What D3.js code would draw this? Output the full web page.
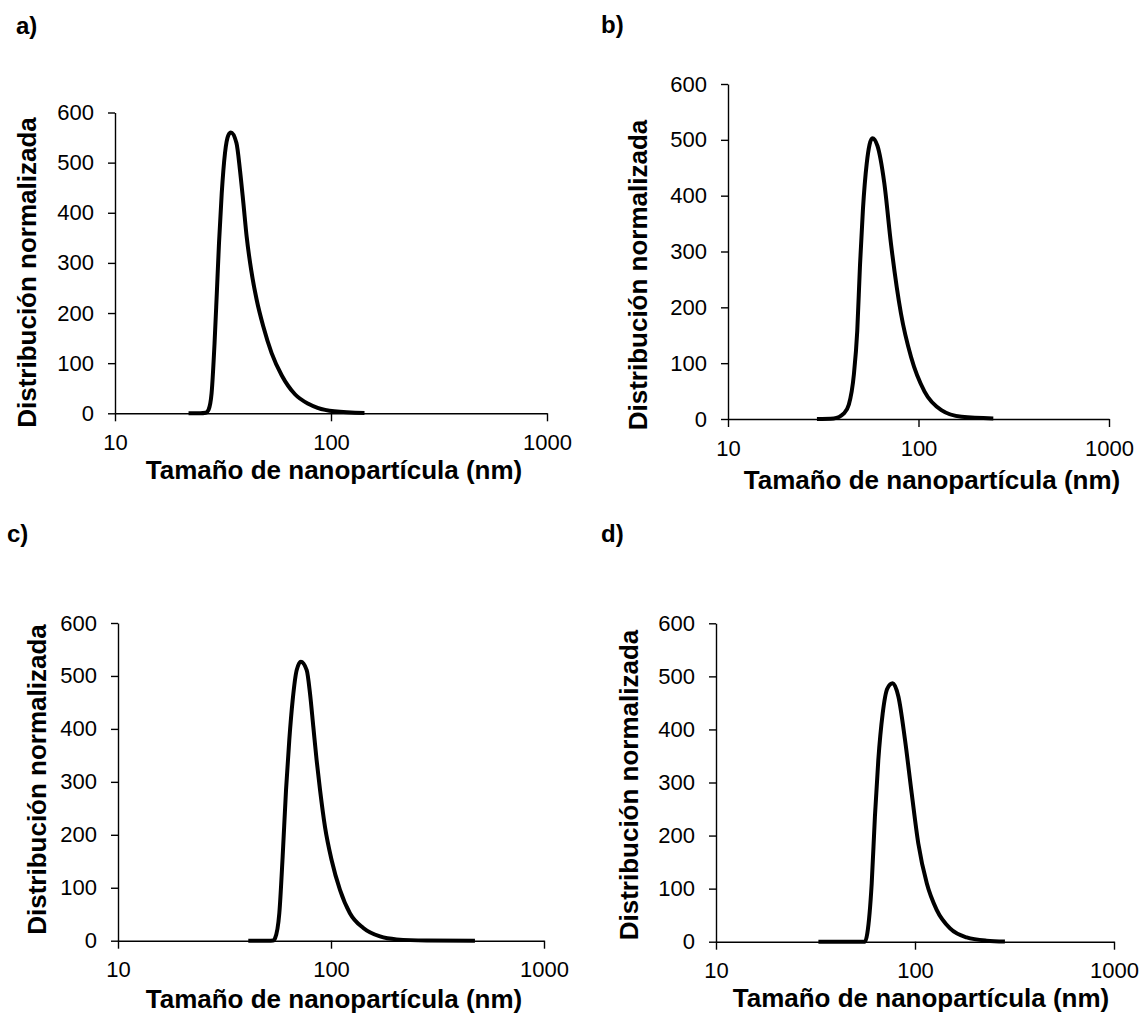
<!DOCTYPE html>
<html>
<head>
<meta charset="utf-8">
<script src="https://cdn.jsdelivr.net/npm/d3@7"></script>
<style>
  body { margin: 0; background: #fff; }
  svg { display: block; font-family: "Liberation Sans", Arial, sans-serif; }
  .axis path, .axis line { stroke: #000; stroke-width: 1.4px; }
  .axis text { font-size: 22px; fill: #000; }
</style>
</head>
<body>
<svg width="1141" height="1014"></svg>
<script>
// values (size in nm, normalized distribution)
var sizesA = [21.9, 24.8, 26.3, 27.1, 28.0, 28.9, 29.6, 30.3, 31.2, 32.3, 33.5, 34.4, 36.5, 37.9, 39.3, 40.7, 42.7, 45.3, 48.6, 53.1, 59.1, 68.1, 78.5, 86.7, 103.5, 142.9];
var valuesA = [0, 0, 1, 7, 40, 140, 239, 339, 439, 519, 555, 560, 539, 485, 419, 352, 286, 226, 173, 120, 76, 38, 19, 11, 4, 0.5];

var sizesB = [29.3, 35.9, 40.6, 43.1, 45.8, 47.7, 49.3, 51.1, 53.5, 57.3, 60.9, 66.1, 71.7, 80.9, 91.4, 107.6, 131.8, 168.3, 247];
var valuesB = [0, 1, 10, 26, 80, 158, 275, 376, 458, 503, 489, 423, 314, 189, 111, 49, 16, 4, 1];

var sizesC = [40.9, 50.8, 53.5, 54.6, 57.2, 59.3, 61.5, 63.7, 66.1, 69.0, 72.2, 76.9, 79.7, 82.6, 85.6, 88.8, 93.7, 100.7, 110.2, 122.7, 141.8, 169.8, 203.4, 281, 474];
var valuesC = [0, 0, 0.5, 4.5, 52, 159, 285, 379, 455, 511, 527, 511, 467, 404, 341, 285, 215, 152, 96, 52, 24, 8, 2.5, 0.5, 0];

var sizesD = [32.7, 56.1, 57.6, 60.6, 62.9, 65.4, 68.8, 72.6, 77.3, 82.5, 89.1, 96.2, 103.9, 114.6, 128.5, 150, 181.8, 229, 283];
var valuesD = [0, 0, 16, 110, 236, 342, 430, 477, 487, 462, 380, 280, 185, 110, 60, 25, 8, 2, 0.5];

var xTicks = [10, 100, 1000];
var yTicks = [0, 100, 200, 300, 400, 500, 600];
var panelLabels = ["a)", "b)", "c)", "d)"];
var xTitle = "Tamaño de nanopartícula (nm)";
var yTitle = "Distribución normalizada";

// each chart was sized a bit differently
var panels = [
    { sizes: sizesA, values: valuesA, x0: 115, x1: 547, yTop: 112.5, yBot: 413.3,
      lab: [16, 33.5], yt: [36, 272.5], xt: [334, 479] },
    { sizes: sizesB, values: valuesB, x0: 728, x1: 1109, yTop: 84, yBot: 419,
      lab: [601, 33], yt: [647, 275], xt: [932, 489] },
    { sizes: sizesC, values: valuesC, x0: 118, x1: 544, yTop: 623, yBot: 940.7,
      lab: [7, 541.7], yt: [46, 779.5], xt: [334, 1008] },
    { sizes: sizesD, values: valuesD, x0: 716, x1: 1114, yTop: 623.3, yBot: 941.7,
      lab: [601, 541.7], yt: [638, 785], xt: [921, 1007] }
];

var svg = d3.select("svg");

panels.forEach(function (p, i) {
    var xScale = d3.scaleLog().domain([10, 1000]).range([p.x0, p.x1]),
        yScale = d3.scaleLinear().domain([0, 600]).range([p.yBot, p.yTop]);

    var g = svg.append("g");

    g.append("g")
        .attr("class", "axis")
        .attr("transform", "translate(0," + p.yBot + ")")
        .call(d3.axisBottom(xScale).tickValues(xTicks).tickFormat(d3.format("d"))
            .tickSizeInner(8).tickSizeOuter(0).tickPadding(13));

    g.append("g")
        .attr("class", "axis")
        .attr("transform", "translate(" + p.x0 + ",0)")
        .call(d3.axisLeft(yScale).tickValues(yTicks)
            .tickSizeInner(7).tickSizeOuter(0).tickPadding(14));

    // monotone keeps the flat parts on the axis
    var line = d3.line()
        .curve(d3.curveMonotoneX)
        .x(function (d) { return xScale(d[0]); })
        .y(function (d) { return yScale(d[1]); });

    g.append("path")
        .datum(d3.zip(p.sizes, p.values))
        .attr("fill", "none")
        .attr("stroke", "#000")
        .attr("stroke-width", 4)
        .attr("stroke-linejoin", "round")
        .attr("d", line);

    g.append("text")
        .attr("x", p.lab[0])
        .attr("y", p.lab[1])
        .style("font", "bold 24px 'Liberation Sans', Arial, sans-serif")
        .text(panelLabels[i]);

    g.append("text")
        .attr("transform", "translate(" + p.yt[0] + "," + p.yt[1] + ") rotate(-90)")
        .attr("text-anchor", "middle")
        .style("font", "bold 26px 'Liberation Sans', Arial, sans-serif")
        .text(yTitle);

    g.append("text")
        .attr("x", p.xt[0])
        .attr("y", p.xt[1])
        .attr("text-anchor", "middle")
        .style("font", "bold 26px 'Liberation Sans', Arial, sans-serif")
        .text(xTitle);
});
</script>
</body>
</html>
